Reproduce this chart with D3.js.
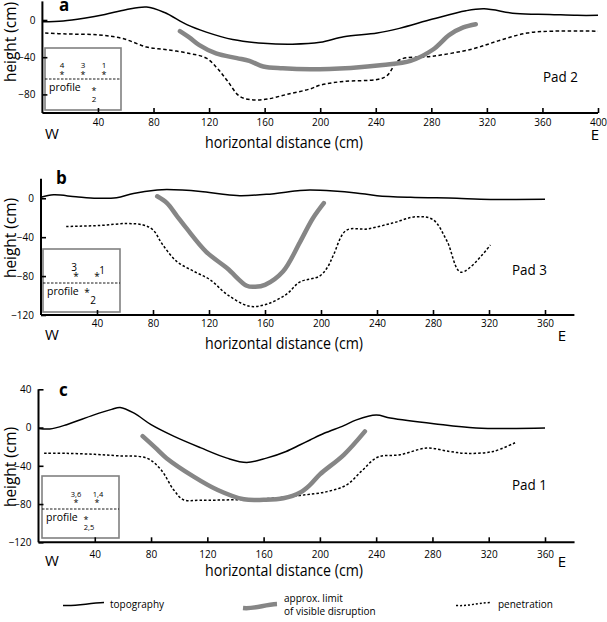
<!DOCTYPE html>
<html><head><meta charset="utf-8">
<script src="https://cdn.jsdelivr.net/npm/d3@7"></script>
<style>body{margin:0;background:#fff}svg{display:block}text{font-family:"Open Sans","Noto Sans",sans-serif}</style>
</head><body><svg id="c" width="607" height="622"></svg>
<script>
// ---- data (x = horizontal distance cm, y = height cm) ----
const topoA = [[0,-2],[15,-1],[30,2],[45,6],[60,11],[75,14],[88,8],[104,-5],[118,-13],[137,-21],[159,-25],[180,-26],[200,-24],[217,-18],[241,-14],[257,-9],[281,1],[305,10],[318,12],[341,7],[365,6],[385,5],[400,5]];
const penA  = [[2,-14],[17,-15],[40,-16],[58,-20],[75,-29],[90,-32],[106,-36],[118,-41],[126,-52],[133,-65],[142,-82],[152,-86],[162,-85],[176,-80],[193,-74],[200,-70],[217,-66],[241,-64],[248,-60],[257,-43],[281,-39],[310,-31],[329,-22],[349,-14],[368,-12],[400,-12]];
const disA  = [[99,-12],[106,-19],[113,-27],[125,-36],[140,-41],[149,-44],[159,-50],[173,-52],[193,-53],[222,-51.5],[245,-48.5],[265,-44],[281,-32],[293,-16],[303,-8],[312,-4.5]];

const topoB = [[0,1],[9,3.5],[25,1.5],[40,0],[54,0.6],[66,5],[83,8.5],[90,9],[114,7],[130,4],[142,2.7],[161,4],[185,8],[192,8.5],[209,7.5],[225,5.5],[240,2.7],[264,1],[297,0],[314,-1],[360,-1]];
const penB  = [[18,-29],[42,-28],[61,-26],[73,-27.5],[80,-32.5],[87,-48],[97,-65],[109,-75],[121,-84],[133,-99],[149,-111],[161,-109],[175,-99],[185,-86],[199,-80],[205,-70],[209,-58],[218,-33],[233,-31.5],[251,-25.5],[268,-19],[280,-22],[290,-44],[300,-76],[321,-48]];
const disB  = [[83,2],[90,-5],[97,-18],[104,-31],[118,-55],[133,-72],[147,-90],[153,-91],[160,-89],[173,-75],[185,-45],[194,-21],[202,-5]];

const topoC = [[0,-1],[8,-1.5],[20,3],[39,13],[52,19],[58,21],[68,15],[80,3],[96,-9],[115,-21],[134,-32],[148,-36.5],[162,-32],[176,-25],[186,-18],[193,-13],[203,-6],[217,2],[226,8],[240,13],[250,10],[281,4],[311,-0.5],[360,-0.5]];
const penC  = [[4,-27],[20,-27],[40,-28],[56,-29.5],[77,-32],[87,-44],[96,-65],[103,-75.5],[115,-76],[139,-75.5],[165,-74],[186,-71],[205,-67],[219,-60],[230,-45],[241,-31],[257,-28.5],[276,-21.5],[292,-25],[304,-27],[323,-25],[340,-15]];
const disC  = [[74,-9],[83,-21],[91,-32],[110,-51],[127,-65],[146,-75],[160,-75.5],[174,-74],[186,-68],[193,-60],[200,-49],[217,-28.5],[232,-4]];

const xTicksA = [40,80,120,160,200,240,280,320,360,400];
const xTicksBC = [40,80,120,160,200,240,280,320,360];
const yTicksA = [0,-40,-80];
const yTicksB = [0,-40,-80,-120];
const yTicksC = [40,0,-40,-80,-120];
const panelLetters = ["a","b","c"];
const padNames = ["Pad 2","Pad 3","Pad 1"];
const legendLabels = ["topography","approx. limit","of visible disruption","penetration"];

// ---- layout ----
const panels = [
  {topo:topoA, pen:penA, dis:disA, xT:xTicksA, yT:yTicksA,
   xd:[0,400], xr:[42.4,598], yd:[-100,20], yr:[113,1.4], axisEnd:400, dash:"3.5,2.5",
   letterPos:[59,11], padPos:[543,82], xLabY:126, wY:139, hdY:148, eX:595, hY:42,
   inset:{x:45,y:48,w:76,h:62,dy:31}},
  {topo:topoB, pen:penB, dis:disB, xT:xTicksBC, yT:yTicksB,
   xd:[0,360], xr:[41,545], yd:[-120,20], yr:[315,178.8], axisEnd:381, dash:"2.5,2",
   letterPos:[56,184], padPos:[512,275], xLabY:327, wY:340, hdY:349, eX:562, hY:238,
   inset:{x:43,y:249,w:77,h:63,dy:34}},
  {topo:topoC, pen:penC, dis:disC, xT:xTicksBC, yT:yTicksC,
   xd:[0,360], xr:[38.5,545], yd:[-120,40], yr:[542.3,389.3], axisEnd:381, dash:"2.5,2",
   letterPos:[59,396], padPos:[512,490], xLabY:558, wY:566, hdY:576, eX:562, hY:467,
   inset:{x:42,y:476,w:77,h:62,dy:33}}
];

const svg = d3.select("#c");

panels.forEach((p,i)=>{
  const x = d3.scaleLinear().domain(p.xd).range(p.xr);
  const y = d3.scaleLinear().domain(p.yd).range(p.yr);
  const g = svg.append("g");
  const x0 = x(0);

  // inset box (drawn first, behind axes)
  const ins = p.inset;
  const ig = g.append("g");
  ig.append("rect").attr("x",ins.x).attr("y",ins.y).attr("width",ins.w).attr("height",ins.h)
    .attr("fill","#fff").attr("stroke","#808080").attr("stroke-width",1.6);
  ig.append("line").attr("x1",ins.x).attr("x2",ins.x+ins.w).attr("y1",ins.y+ins.dy).attr("y2",ins.y+ins.dy)
    .attr("stroke","#000").attr("stroke-width",0.9).attr("stroke-dasharray","2.5,1.5");
  ig.append("text").attr("x",ins.x+4).attr("y",ins.y+ins.dy+12).attr("font-size",10.5).text("profile");

  // axes
  const xAxis = d3.axisBottom(x).tickValues(p.xT).tickSize(-5).tickPadding(8).tickSizeOuter(0).tickFormat(d3.format("d"));
  const xg = g.append("g").attr("transform",`translate(0,${p.yr[0]})`).call(xAxis);
  xg.select(".domain").attr("d",`M${x0},0H${x(p.axisEnd)}`).attr("stroke-width",2);
  xg.selectAll(".tick line").attr("stroke-width",1.6);
  xg.selectAll(".tick text").attr("font-size",10).attr("font-family","Open Sans, sans-serif").attr("y",p.xLabY-p.yr[0]).attr("dy",0);

  const yAxis = d3.axisLeft(y).tickValues(p.yT).tickSize(-5).tickPadding(8).tickSizeOuter(0).tickFormat(d3.format("d"));
  const yg = g.append("g").attr("transform",`translate(${x0},0)`).call(yAxis);
  yg.select(".domain").attr("d",`M0,${p.yr[1]}V${p.yr[0]}`).attr("stroke-width",2);
  yg.selectAll(".tick line").attr("stroke-width",1.6);
  yg.selectAll(".tick text").attr("font-size",10).attr("font-family","Open Sans, sans-serif").attr("x",-7);

  // lines
  const line = d3.line().x(d=>x(d[0])).y(d=>y(d[1])).curve(d3.curveCatmullRom.alpha(0.5));
  g.append("path").attr("d",line(p.pen)).attr("fill","none").attr("stroke","#000")
    .attr("stroke-width",1.5).attr("stroke-dasharray",p.dash);
  g.append("path").attr("d",line(p.dis)).attr("fill","none").attr("stroke","#868686")
    .attr("stroke-width",4.5).attr("stroke-linecap","round");
  g.append("path").attr("d",line(p.topo)).attr("fill","none").attr("stroke","#000").attr("stroke-width",1.5);

  // labels
  g.append("text").attr("x",p.letterPos[0]).attr("y",p.letterPos[1]).attr("font-size",17)
    .attr("font-weight","bold").attr("font-family","DejaVu Sans, sans-serif").text(panelLetters[i]);
  g.append("text").attr("x",p.padPos[0]).attr("y",p.padPos[1]).attr("font-size",14.5)
    .attr("textLength",35).attr("lengthAdjust","spacingAndGlyphs").text(padNames[i]);
  g.append("text").attr("x",45).attr("y",p.wY).attr("font-size",15).text("W");
  g.append("text").attr("x",p.eX).attr("y",p.wY+1).attr("font-size",15).attr("text-anchor","middle").text("E");
  g.append("text").attr("x",205).attr("y",p.hdY).attr("font-size",16.5)
    .attr("textLength",158).attr("lengthAdjust","spacingAndGlyphs").text("horizontal distance (cm)");
  g.append("text").attr("transform",`translate(16,${p.hY}) rotate(-90)`).attr("text-anchor","middle")
    .attr("font-size",15.5).attr("textLength",80).attr("lengthAdjust","spacingAndGlyphs").text("height (cm)");

  // inset markers
  const small = (tx,ty,s,fs)=>ig.append("text").attr("x",tx).attr("y",ty).attr("font-size",fs||8).attr("text-anchor","middle").text(s);
  if(i===0){
    [["4",62],["3",83],["1",104]].forEach(([s,xx])=>{small(xx,68,s,8); small(xx,78,"*",9);});
    small(94,94,"*",9); small(94,102,"2",8);
  } else if(i===1){
    small(74,271,"3",10); small(76,280,"*",10);
    small(102,274,"1",10); small(97,280,"*",10);
    small(87,296,"*",10); small(93,304,"2",10);
  } else {
    small(76,497,"3,6",7.5); small(76,506,"*",9);
    small(98,497,"1,4",7.5); small(97,506,"*",9);
    small(86,523,"*",9); small(89,530,"2,5",7.5);
  }
});

// ---- legend ----
const lg = svg.append("g");
const curveSw = (x1,x2,yc,amp)=>`M${x1},${yc+amp}C${x1+(x2-x1)*0.35},${yc+amp*1.6} ${x1+(x2-x1)*0.6},${yc-amp*0.6} ${x2},${yc-amp}`;
lg.append("path").attr("d",curveSw(63,104,604,1.5)).attr("fill","none").attr("stroke","#000").attr("stroke-width",1.5);
lg.append("text").attr("x",110).attr("y",607.5).attr("font-size",10).text(legendLabels[0]);
lg.append("path").attr("d",curveSw(243,277,606,2)).attr("fill","none").attr("stroke","#868686").attr("stroke-width",4.5);
lg.append("text").attr("x",284).attr("y",602).attr("font-size",10).text(legendLabels[1]);
lg.append("text").attr("x",284).attr("y",615).attr("font-size",10).text(legendLabels[2]);
lg.append("path").attr("d",curveSw(456,490,604,1.5)).attr("fill","none").attr("stroke","#000").attr("stroke-width",1.5).attr("stroke-dasharray","2,2");
lg.append("text").attr("x",498).attr("y",607.5).attr("font-size",10).text(legendLabels[3]);
</script></body></html>
